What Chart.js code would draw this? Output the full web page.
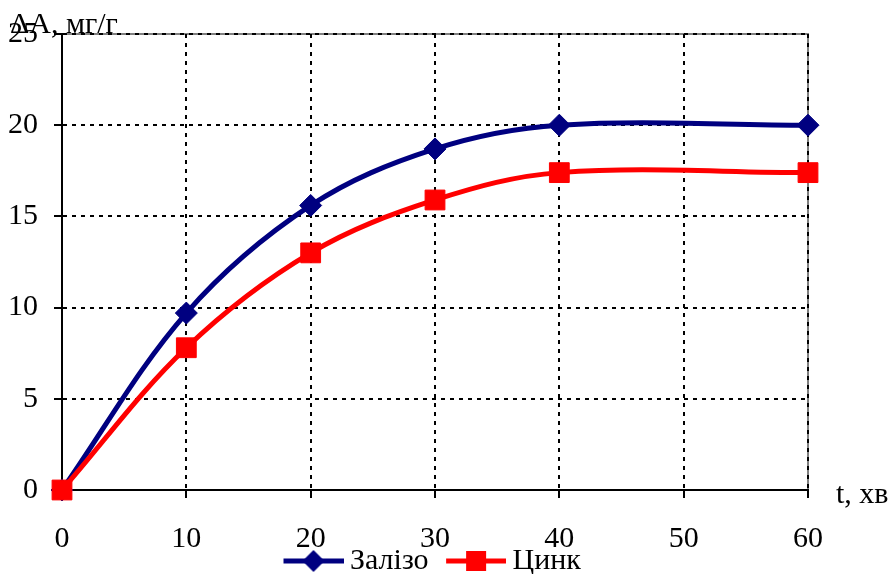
<!DOCTYPE html>
<html lang="uk">
<head>
    <meta charset="UTF-8">
    <title>ΔA, мг/г</title>
    <style>
        html, body { margin: 0; padding: 0; background: #ffffff; }
        #wrap { width: 889px; height: 574px; }
    </style>
    <script src="https://cdn.jsdelivr.net/npm/chart.js"></script>
</head>
<body>
    <div id="wrap"><canvas id="chart" width="889" height="574"></canvas></div>
    <script>
        // дані з графіка
        const times = [0, 10, 20, 30, 40, 60];
        const zalizo = [0, 9.7, 15.6, 18.7, 20.0, 20.0];
        const tsynk = [0, 7.8, 13.0, 15.9, 17.4, 17.4];
        const seriesNames = ['Залізо', 'Цинк'];
        const yTitle = 'ΔA, мг/г';
        const xTitle = 't, хв';

        const NAVY = '#000080';
        const RED = '#ff0000';
        const FONT = "'Liberation Serif', 'Times New Roman', serif";

        // значок легенди: лінія + маркер (ширина 80, лінія 20..80)
        function legendIcon(color, shape) {
            const c = document.createElement('canvas');
            c.width = 80; c.height = 24;
            const g = c.getContext('2d');
            g.strokeStyle = color;
            g.lineWidth = 5;
            g.beginPath(); g.moveTo(20, 12); g.lineTo(80, 12); g.stroke();
            g.fillStyle = color;
            g.beginPath();
            if (shape === 'diamond') {
                g.moveTo(50, 1); g.lineTo(61, 12); g.lineTo(50, 23); g.lineTo(39, 12);
            } else {
                g.rect(40, 2, 20, 20);
            }
            g.closePath(); g.fill();
            return c;
        }

        const frame = {
            id: 'frame',
            afterLayout(chart) {
                // легенда під підписами осі, як в оригіналі
                const lg = chart.legend;
                const h = lg.height;
                lg.top = 540; lg.bottom = 540 + h;
                lg.left = 266; lg.right = 889;
                chart.scales.x.bottom = 574;
            },
            beforeDraw(chart) {
                const { ctx, chartArea: a } = chart;
                ctx.save();
                ctx.fillStyle = '#fff';
                ctx.fillRect(0, 0, chart.width, chart.height);
                ctx.strokeStyle = '#808080';
                ctx.lineWidth = 2;
                ctx.beginPath();
                ctx.moveTo(a.left, a.top); ctx.lineTo(a.right, a.top); ctx.lineTo(a.right, a.bottom);
                ctx.stroke();
                ctx.restore();
            },
            afterDraw(chart) {
                const { ctx, chartArea: a } = chart;
                ctx.save();
                ctx.fillStyle = '#000';
                ctx.font = '30px ' + FONT;
                ctx.textBaseline = 'alphabetic';
                ctx.textAlign = 'left';
                ctx.fillText(yTitle, 10, 33);
                ctx.fillText(xTitle, a.right + 28, 503);
                ctx.restore();
            }
        };

        new Chart(document.getElementById('chart'), {
            type: 'line',
            data: {
                datasets: [
                    {
                        label: seriesNames[0],
                        data: times.map((t, i) => ({ x: t, y: zalizo[i] })),
                        order: 1,
                        borderColor: NAVY,
                        backgroundColor: NAVY,
                        borderWidth: 5,
                        tension: 0.35,
                        clip: false,
                        pointStyle: 'rectRot',
                        pointRadius: 11,
                        pointBorderWidth: 1,
                        icon: legendIcon(NAVY, 'diamond')
                    },
                    {
                        label: seriesNames[1],
                        data: times.map((t, i) => ({ x: t, y: tsynk[i] })),
                        order: 0,
                        borderColor: RED,
                        backgroundColor: RED,
                        borderWidth: 5,
                        tension: 0.35,
                        clip: false,
                        pointStyle: 'rect',
                        pointRadius: 14,
                        pointBorderWidth: 1,
                        icon: legendIcon(RED, 'square')
                    }
                ]
            },
            options: {
                responsive: false,
                animation: false,
                layout: { padding: { left: 0, right: 81, top: 32, bottom: 0 } },
                scales: {
                    x: {
                        type: 'linear',
                        min: 0, max: 60,
                        ticks: { stepSize: 10, color: '#000', padding: 23, font: { family: FONT, size: 30 } },
                        grid: { color: '#000', lineWidth: 2, tickLength: 8, tickBorderDash: [], tickColor: '#000' },
                        border: { display: true, color: '#000', width: 2, dash: [4, 5] },
                        afterFit(axis) {
                            const lg = axis.chart.legend;
                            axis.height = 84 - (lg ? lg.height : 0);
                        }
                    },
                    y: {
                        min: 0, max: 25,
                        ticks: { stepSize: 5, color: '#000', padding: 16, font: { family: FONT, size: 30 } },
                        grid: { color: '#000', lineWidth: 2, tickLength: 8, tickBorderDash: [], tickColor: '#000' },
                        border: { display: true, color: '#000', width: 2, dash: [4, 5] },
                        afterFit(axis) { axis.width = 62; }
                    }
                },
                plugins: {
                    legend: {
                        position: 'bottom',
                        align: 'start',
                        labels: {
                            usePointStyle: true,
                            pointStyleWidth: 63,
                            padding: 6,
                            color: '#000',
                            font: { family: FONT, size: 30 },
                            generateLabels(chart) {
                                return chart.data.datasets.map((ds, i) => ({
                                    text: ds.label,
                                    pointStyle: ds.icon,
                                    fillStyle: ds.borderColor,
                                    strokeStyle: ds.borderColor,
                                    lineWidth: 0,
                                    datasetIndex: i
                                }));
                            }
                        }
                    },
                    tooltip: { enabled: false }
                }
            },
            plugins: [frame]
        });
    </script>
</body>
</html>
